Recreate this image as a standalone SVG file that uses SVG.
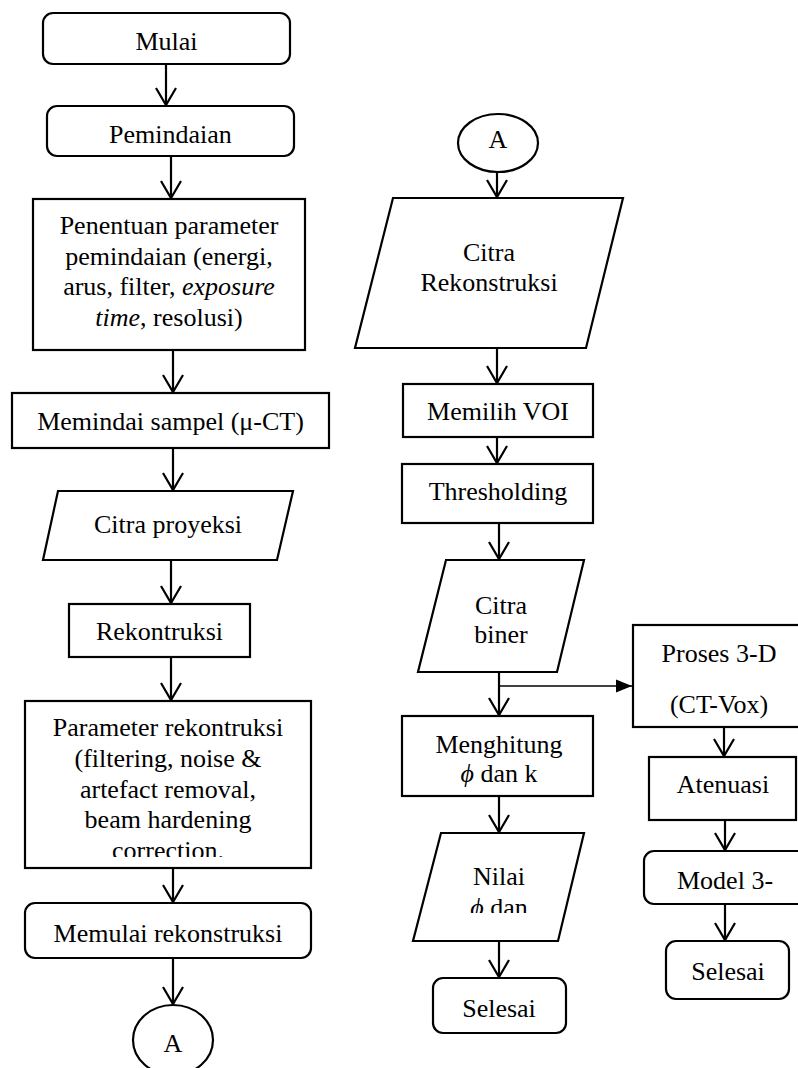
<svg xmlns="http://www.w3.org/2000/svg" width="798" height="1068" viewBox="0 0 798 1068">
<style>
  .box { fill: #ffffff; stroke: #000000; stroke-width: 2.2; }
  .t { font-family: "Liberation Serif", "Times New Roman", serif; font-size: 26px; fill: #000000; text-anchor: middle; }
  .ts { text-anchor: start; }
  .conn { stroke: #000000; stroke-width: 2.2; fill: none; marker-end: url(#open); }
  .thin { stroke: #000000; stroke-width: 1.3; fill: none; marker-end: url(#solid); }
</style>
<defs>
  <marker id="open" markerUnits="userSpaceOnUse" viewBox="-2 -12 22 24" markerWidth="22" markerHeight="24" refX="17" refY="0" orient="auto">
    <path d="M0,-10 L17,0 L0,10" fill="none" stroke="#000000" stroke-width="2.2"/>
  </marker>
  <marker id="solid" markerUnits="userSpaceOnUse" viewBox="0 -7 17 14" markerWidth="17" markerHeight="14" refX="16" refY="0" orient="auto">
    <path d="M0,-6.5 L16,0 L0,6.5 Z" fill="#000000"/>
  </marker>
  <clipPath id="clipParam"><rect x="25" y="701" width="286" height="156"/></clipPath>
  <clipPath id="clipNilai"><rect x="413" y="833" width="171" height="80"/></clipPath>
</defs>

<g id="connectors">
  <line class="conn" x1="166" y1="64" x2="166" y2="105"/>
  <line class="conn" x1="171" y1="156" x2="171" y2="198"/>
  <line class="conn" x1="173" y1="350" x2="173" y2="392"/>
  <line class="conn" x1="173" y1="448" x2="173" y2="490"/>
  <line class="conn" x1="171" y1="560" x2="171" y2="603"/>
  <line class="conn" x1="171" y1="657" x2="171" y2="700"/>
  <line class="conn" x1="173" y1="868" x2="173" y2="902"/>
  <line class="conn" x1="173" y1="958" x2="173" y2="1004"/>
  <line class="conn" x1="497" y1="172" x2="497" y2="197"/>
  <line class="conn" x1="497" y1="349" x2="497" y2="383"/>
  <line class="conn" x1="497" y1="437" x2="497" y2="463"/>
  <line class="conn" x1="499" y1="523" x2="499" y2="559"/>
  <line class="conn" x1="499" y1="672" x2="499" y2="715"/>
  <line class="thin" x1="499" y1="686" x2="632" y2="686"/>
  <line class="conn" x1="499" y1="796" x2="499" y2="832"/>
  <line class="conn" x1="499" y1="941" x2="499" y2="977"/>
  <line class="conn" x1="724" y1="727" x2="724" y2="756"/>
  <line class="conn" x1="725" y1="820" x2="725" y2="850"/>
  <line class="conn" x1="725" y1="904" x2="725" y2="940"/>
</g>

<g id="mulai">
  <rect class="box" x="43" y="13" width="247" height="51" rx="10"/>
  <text class="t" x="166.5" y="50">Mulai</text>
</g>
<g id="pemindaian">
  <rect class="box" x="47" y="106" width="247" height="50" rx="10"/>
  <text class="t" x="170.5" y="143">Pemindaian</text>
</g>
<g id="penentuan">
  <rect class="box" x="33" y="199" width="272" height="151"/>
  <text class="t" x="169" y="234">Penentuan parameter</text>
  <text class="t" x="169" y="264.5">pemindaian (energi,</text>
  <text class="t" x="169" y="295">arus, filter, <tspan font-style="italic">exposure</tspan></text>
  <text class="t" x="169" y="325.5"><tspan font-style="italic">time</tspan>, resolusi)</text>
</g>
<g id="memindai">
  <rect class="box" x="12" y="393" width="317" height="55"/>
  <text class="t" x="170.5" y="430">Memindai sampel (μ-CT)</text>
</g>
<g id="citra-proyeksi">
  <polygon class="box" points="58,491 293,491 277,560 43,560"/>
  <text class="t" x="168" y="533">Citra proyeksi</text>
</g>
<g id="rekontruksi">
  <rect class="box" x="69" y="604" width="181" height="53"/>
  <text class="t" x="159.5" y="640">Rekontruksi</text>
</g>
<g id="parameter">
  <rect class="box" x="25" y="701" width="286" height="167"/>
  <g clip-path="url(#clipParam)">
    <text class="t" x="168" y="736">Parameter rekontruksi</text>
    <text class="t" x="168" y="767">(filtering, noise &amp;</text>
    <text class="t" x="168" y="798">artefact removal,</text>
    <text class="t" x="168" y="828">beam hardening</text>
    <text class="t" x="168" y="858.5">correction.</text>
  </g>
</g>
<g id="memulai">
  <rect class="box" x="25" y="903" width="286" height="55" rx="10"/>
  <text class="t" x="168" y="942">Memulai rekonstruksi</text>
</g>
<g id="a-bottom">
  <ellipse class="box" cx="173" cy="1040" rx="40" ry="35"/>
  <text class="t" x="173" y="1052">A</text>
</g>

<g id="a-top">
  <ellipse class="box" cx="498" cy="143" rx="40" ry="29"/>
  <text class="t" x="498" y="148">A</text>
</g>
<g id="citra-rekonstruksi">
  <polygon class="box" points="393,198 623,198 586,348 355,348"/>
  <text class="t" x="489" y="261">Citra</text>
  <text class="t" x="489" y="291">Rekonstruksi</text>
</g>
<g id="memilih-voi">
  <rect class="box" x="403" y="384" width="190" height="53"/>
  <text class="t" x="498" y="420">Memilih VOI</text>
</g>
<g id="thresholding">
  <rect class="box" x="402" y="464" width="191" height="59"/>
  <text class="t" x="498" y="500">Thresholding</text>
</g>
<g id="citra-biner">
  <polygon class="box" points="446,560 584,560 557,672 418,672"/>
  <text class="t" x="501" y="614">Citra</text>
  <text class="t" x="501" y="643">biner</text>
</g>
<g id="menghitung">
  <rect class="box" x="402" y="716" width="191" height="80"/>
  <text class="t" x="499" y="753">Menghitung</text>
  <text class="t" x="499" y="782"><tspan font-style="italic">ϕ</tspan> dan k</text>
</g>
<g id="nilai">
  <polygon class="box" points="441,833 584,833 558,941 413,941"/>
  <g clip-path="url(#clipNilai)">
    <text class="t" x="499" y="885">Nilai</text>
    <text class="t" x="499" y="915.5"><tspan font-style="italic">ϕ</tspan> dan</text>
  </g>
</g>
<g id="selesai-1">
  <rect class="box" x="433" y="978" width="133" height="55" rx="10"/>
  <text class="t" x="499" y="1017">Selesai</text>
</g>

<g id="proses-3d">
  <rect class="box" x="633" y="625" width="200" height="102"/>
  <text class="t" x="719" y="662">Proses 3-D</text>
  <text class="t" x="719" y="713">(CT-Vox)</text>
</g>
<g id="atenuasi">
  <rect class="box" x="649" y="757" width="147" height="63"/>
  <text class="t" x="723" y="793">Atenuasi</text>
</g>
<g id="model-3d">
  <rect class="box" x="644" y="851" width="200" height="53" rx="10"/>
  <text class="t ts" x="677" y="889">Model 3-</text>
</g>
<g id="selesai-2">
  <rect class="box" x="666" y="941" width="123" height="58" rx="10"/>
  <text class="t" x="728" y="980">Selesai</text>
</g>
</svg>
